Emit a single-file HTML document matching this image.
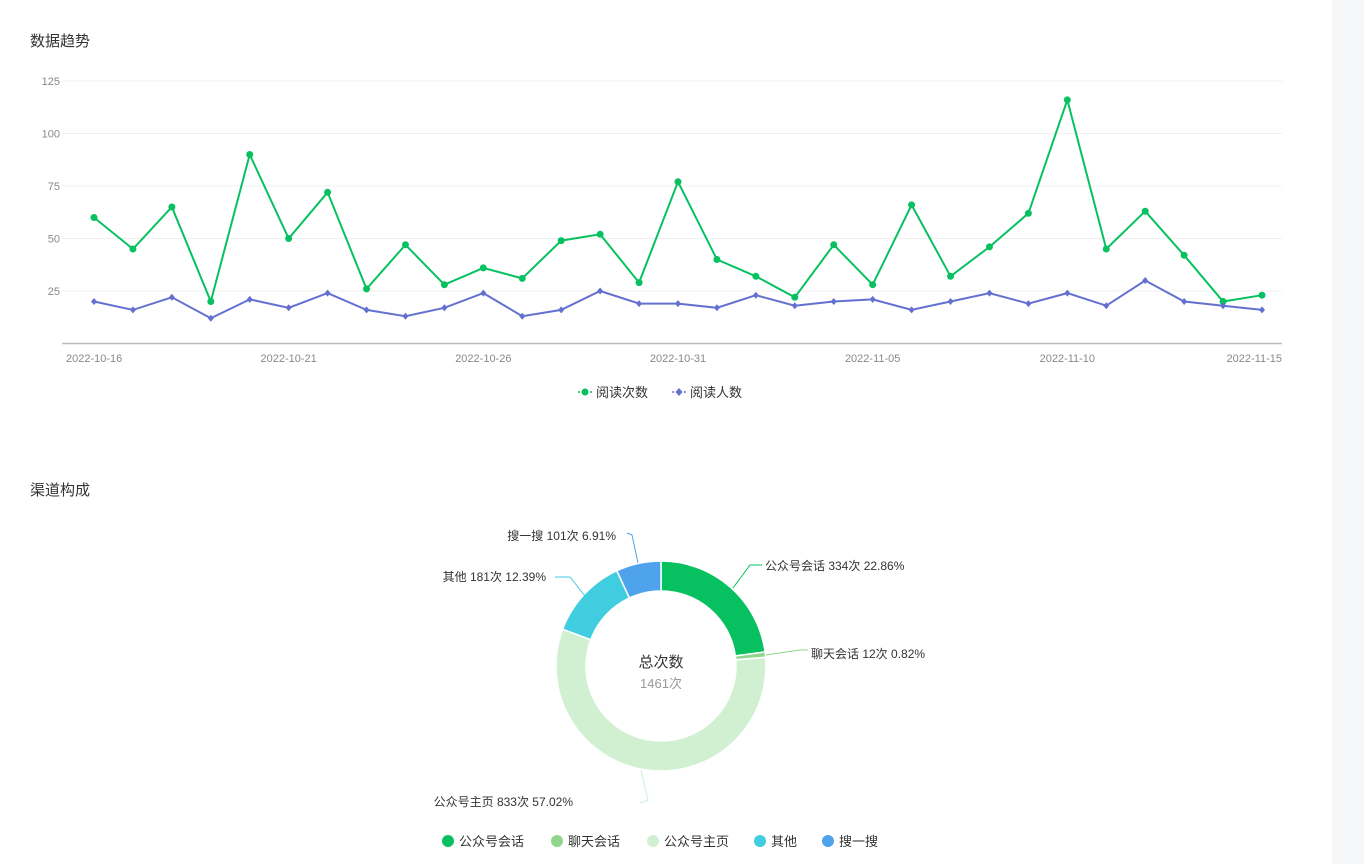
<!DOCTYPE html>
<html><head><meta charset="utf-8"><style>
body{margin:0;width:1364px;height:864px;background:#fff;overflow:hidden;font-family:"Liberation Sans","Noto Sans CJK SC",sans-serif;position:relative}
.side{position:absolute;left:1332px;top:0;width:32px;height:864px;background:#f5f6f7}
.t{position:absolute;font-size:15px;color:#333}
svg{position:absolute;left:0;top:0}
</style></head><body>
<div class="side"></div>
<div class="t" style="left:30px;top:30px">数据趋势</div>
<div class="t" style="left:30px;top:479px">渠道构成</div>
<svg width="1332" height="864" id="c"></svg>
<script>
const dates=[];
const reads=[60,45,65,20,90,50,72,26,47,28,36,31,49,52,29,77,40,32,22,47,28,66,32,46,62,116,45,63,42,20,23];
const readers=[20,16,22,12,21,17,24,16,13,17,24,13,16,25,19,19,17,23,18,20,21,16,20,24,19,24,18,30,20,18,16];
const yTicks=[25,50,75,100,125];
const xLabels=["2022-10-16","2022-10-21","2022-10-26","2022-10-31","2022-11-05","2022-11-10","2022-11-15"];
const sliceNames=["公众号会话","聊天会话","公众号主页","其他","搜一搜"];
const sliceVals=[334,12,833,181,101];
const sliceColors=["#07c160","#8fd58a","#d1f0d1","#40cde0","#4fa3ec"];
const svg=document.getElementById('c');const NS="http://www.w3.org/2000/svg";
function el(t,a,txt){const e=document.createElementNS(NS,t);for(const k in a)e.setAttribute(k,a[k]);if(txt!=null)e.textContent=txt;svg.appendChild(e);return e;}
const x0=94,x1=1262,y0=343.5,ky=2.1;
const X=i=>x0+(x1-x0)*i/(reads.length-1);
const Y=v=>y0-v*ky;
for(const t of yTicks){let g=el('line',{x1:62,x2:1282,y1:Y(t),y2:Y(t),stroke:'#f0f0f0'});


let l=el('text',{x:60,y:Y(t)+4,'text-anchor':'end','font-size':11,fill:'#888'},t);

}
let ax=el('line',{x1:62,x2:1282,y1:343.5,y2:343.5,stroke:'#bbb','stroke-width':1.5});


xLabels.forEach((s,j)=>{const i=j*5;let a=j==0?'start':(j==xLabels.length-1?'end':'middle');let xx=j==0?66:(j==xLabels.length-1?1282:X(i));
let l=el('text',{x:xx,y:362,'text-anchor':a,'font-size':11,fill:'#888'},s);

});
function series(vals,color,name,diamond){
let p=el('polyline',{points:vals.map((v,i)=>X(i)+','+Y(v)).join(' '),fill:'none',stroke:color,'stroke-width':2});


vals.forEach((v,i)=>{let m;if(diamond){const x=X(i),y=Y(v);m=el('polygon',{points:`${x},${y-3.5} ${x+3},${y} ${x},${y+3.5} ${x-3},${y}`,fill:color});}
else m=el('circle',{cx:X(i),cy:Y(v),r:3.5,fill:color});

});}
series(reads,'#07c160','reads',false);
series(readers,'#6470d0','readers',true);
// legend
let lg=[[578,'#07c160','阅读次数',false],[672,'#6470d0','阅读人数',true]];
for(const [x,c,t,d] of lg){let l=el('line',{x1:x,x2:x+14,y1:392,y2:392,stroke:c,'stroke-width':1.5,'stroke-dasharray':'2,2'});


let m=d?el('polygon',{points:`${x+7},388 ${x+10.5},392 ${x+7},396 ${x+3.5},392`,fill:c}):el('circle',{cx:x+7,cy:392,r:3.5,fill:c});


let tx=el('text',{x:x+18,y:397,'font-size':13,fill:'#333'},t);

}
// donut
const cx=661,cy=666,R=105,r=75;const total=sliceVals.reduce((a,b)=>a+b,0);
let ang=-Math.PI/2;
const lbl=[[765,570,'start',[733,588,750,565,762,565]],[811,658,'start',[766,655,800,650,808,650]],[573,806,'end',[641,770,648,800,640,803]],[546,581,'end',[585,596,570,577,555,577]],[616,540,'end',[638,563,632,535,627,533]]];
sliceVals.forEach((v,i)=>{const a2=ang+v/total*2*Math.PI;const lg=(a2-ang)>Math.PI?1:0;
const p=(rr,a)=>[cx+rr*Math.cos(a),cy+rr*Math.sin(a)];
const [a,b]=p(R,ang),[c,d]=p(R,a2),[e,f]=p(r,a2),[g,h]=p(r,ang);
let s=el('path',{d:`M${a},${b}A${R},${R} 0 ${lg} 1 ${c},${d}L${e},${f}A${r},${r} 0 ${lg} 0 ${g},${h}Z`,fill:sliceColors[i],stroke:'#fff','stroke-width':1.5});


const L=lbl[i];const pts=L[3];
let pl=el('polyline',{points:pts.join(' '),fill:'none',stroke:sliceColors[i]});


let t=el('text',{x:L[0],y:L[1],'text-anchor':L[2],'font-size':12,fill:'#333'},`${sliceNames[i]} ${v}次 ${(v/total*100).toFixed(2)}%`);


ang=a2;});
let c1=el('text',{x:cx,y:667,'text-anchor':'middle','font-size':15,fill:'#333'},'总次数');


let c2=el('text',{x:cx,y:688,'text-anchor':'middle','font-size':13,fill:'#999'},total+'次');


let lx=[442,551,647,754,822];
sliceNames.forEach((n,i)=>{let m=el('circle',{cx:lx[i]+6,cy:841,r:6,fill:sliceColors[i]});


let t=el('text',{x:lx[i]+17,y:846,'font-size':13,fill:'#333'},n);

});
</script>
</body></html>
